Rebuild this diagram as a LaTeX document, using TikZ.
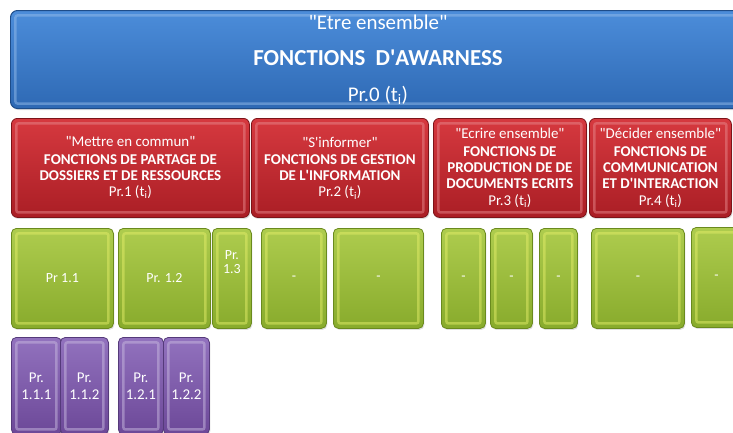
\documentclass[tikz,border=0pt]{standalone}
\usepackage{fontspec}
\setmainfont{Carlito}
\usetikzlibrary{shadows}
\definecolor{awaretop}{HTML}{4C8DDA}
\definecolor{awarebot}{HTML}{2E69B4}
\definecolor{awareedge}{HTML}{1E4C88}
\definecolor{functop}{HTML}{D6393F}
\definecolor{funcbot}{HTML}{AA1E25}
\definecolor{funcedge}{HTML}{7C1419}
\definecolor{subtop}{HTML}{AECC4E}
\definecolor{subbot}{HTML}{88AB2C}
\definecolor{subedge}{HTML}{6A8A1E}
\definecolor{leaftop}{HTML}{9272BE}
\definecolor{leafbot}{HTML}{6C4898}
\definecolor{leafedge}{HTML}{553A7A}
\newcommand{\apos}{\textquotesingle}
\newcommand{\qq}[1]{\textquotedbl#1\textquotedbl}
\newcommand{\ti}{(t\textsubscript{i})}

\begin{document}
\begin{tikzpicture}[x=1bp, y=-1bp,
    every node/.style={text=white, align=center, anchor=north west, inner sep=1pt},
    bevel/.style={path picture={
      \draw[#1, line width=2.5pt, opacity=.5, rounded corners=2pt]
        ([shift={(5pt,-5pt)}]path picture bounding box.north west) rectangle
        ([shift={(-5pt,5pt)}]path picture bounding box.south east);}},
    awarebox/.style={rounded corners=7pt, draw=awareedge, line width=1pt,
      top color=awaretop, bottom color=awarebot, bevel=awaretop!60!white,
      drop shadow={opacity=.25, shadow xshift=1pt, shadow yshift=-1.5pt},
      font=\fontsize{21}{36}\selectfont},
    funcbox/.style={rounded corners=6pt, draw=funcedge, line width=.8pt,
      top color=functop, bottom color=funcbot, bevel=functop!60!white,
      drop shadow={opacity=.25, shadow xshift=1pt, shadow yshift=-1.5pt},
      minimum height=99bp, font=\fontsize{15}{16}\selectfont},
    subbox/.style={rounded corners=5pt, draw=subedge, line width=.8pt,
      top color=subtop, bottom color=subbot, bevel=subtop!50!yellow!70!white,
      drop shadow={opacity=.25, shadow xshift=1pt, shadow yshift=-1.5pt},
      minimum height=100bp, font=\fontsize{14}{14}\selectfont},
    leafbox/.style={rounded corners=5pt, draw=leafedge, line width=.8pt,
      top color=leaftop, bottom color=leafbot, bevel=leaftop!50!white,
      drop shadow={opacity=.25, shadow xshift=1pt, shadow yshift=-1.5pt},
      minimum height=97bp, font=\fontsize{15}{17}\selectfont}]
  \useasboundingbox (0,0) rectangle (733,432);
  \clip (0,0) rectangle (733,432);

  % niveau 0
  \node[awarebox, minimum width=735bp, minimum height=98bp] (aware) at (10,10)
    {\qq{Etre ensemble}\\{\fontsize{23}{36}\selectfont\bfseries FONCTIONS\hspace{.45em}D\apos AWARNESS}\\Pr.0 \ti};

  % niveau 1
  \node[funcbox, minimum width=238bp] (share) at (11,118)
    {\qq{Mettre en commun}\\[2pt]\textbf{FONCTIONS DE PARTAGE DE}\\\textbf{DOSSIERS ET DE RESSOURCES}\\Pr.1 \ti};
  \node[funcbox, minimum width=177bp] (inform) at (251,118)
    {\qq{S\apos informer}\\[2pt]\textbf{FONCTIONS DE GESTION}\\\textbf{DE L\apos INFORMATION}\\Pr.2 \ti};
  \node[funcbox, minimum width=153bp] (write) at (433,118)
    {\qq{Ecrire ensemble}\\[2pt]\textbf{FONCTIONS DE}\\\textbf{PRODUCTION DE DE}\\\textbf{DOCUMENTS ECRITS}\\[1pt]Pr.3 \ti};
  \node[funcbox, minimum width=142bp] (decide) at (589,118)
    {\qq{Décider ensemble}\\[2pt]\textbf{FONCTIONS DE}\\\textbf{COMMUNICATION}\\\textbf{ET D\apos INTERACTION}\\[1pt]Pr.4 \ti};

  % niveau 2
  \node[subbox, minimum width=102bp] (pr11) at (11,228) {Pr 1.1};
  \node[subbox, minimum width=92bp] (pr12) at (118,228) {Pr. 1.2};
  \node[subbox, minimum width=39bp] (pr13) at (212,228) {Pr.\\1.3\\[18pt]};
  \node[subbox, minimum width=65bp] (inf1) at (261,228) {-};
  \node[subbox, minimum width=90bp] (inf2) at (333,228) {-};
  \node[subbox, minimum width=44bp] (wr1) at (441,228) {-};
  \node[subbox, minimum width=42bp] (wr2) at (490,228) {-};
  \node[subbox, minimum width=38bp] (wr3) at (539,228) {-};
  \node[subbox, minimum width=93bp] (dec1) at (591,228) {-};
  \node[subbox, minimum width=50bp] (dec2) at (691,227) {-};

  % niveau 3
  \node[leafbox, minimum width=50bp] (pr111) at (11,337) {Pr.\\1.1.1};
  \node[leafbox, minimum width=48bp] (pr112) at (60,337) {Pr.\\1.1.2};
  \node[leafbox, minimum width=45bp] (pr121) at (118,337) {Pr.\\1.2.1};
  \node[leafbox, minimum width=46bp] (pr122) at (163,337) {Pr.\\1.2.2};
\end{tikzpicture}
\end{document}
